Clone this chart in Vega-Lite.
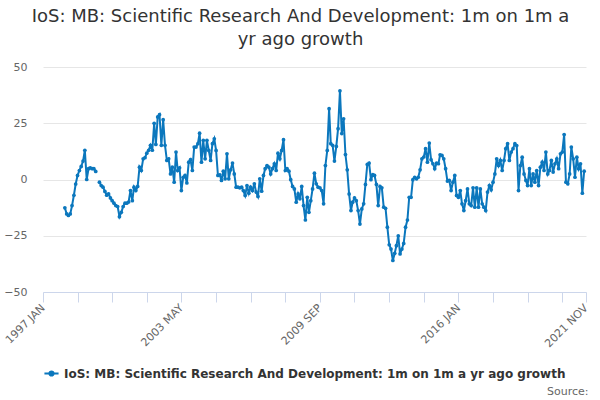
{
  "$schema": "https://vega.github.io/schema/vega-lite/v6.json",
  "width": 543,
  "height": 225,
  "autosize": "none",
  "padding": {"left": 43, "top": 67, "right": 14, "bottom": 108},
  "background": "white",
  "title": {
    "text": ["IoS: MB: Scientific Research And Development: 1m on 1m a", "yr ago growth"],
    "font": "DejaVu Sans",
    "fontSize": 18,
    "fontWeight": "normal",
    "color": "#333333",
    "anchor": "middle",
    "frame": "group",
    "dx": -14,
    "offset": 12,
    "lineHeight": 23
  },
  "data": {
    "values": [
      {"date": "1998-01-01", "value": -12.6}, {"date": "1998-02-01", "value": -15.3}, {"date": "1998-03-01", "value": -16}, {"date": "1998-04-01", "value": -15.3},
      {"date": "1998-05-01", "value": -11.6}, {"date": "1998-06-01", "value": -7}, {"date": "1998-07-01", "value": -2}, {"date": "1998-08-01", "value": 1.8},
      {"date": "1998-09-01", "value": 4}, {"date": "1998-10-01", "value": 5.8}, {"date": "1998-11-01", "value": 8.2}, {"date": "1998-12-01", "value": 13},
      {"date": "1999-01-01", "value": 0}, {"date": "1999-02-01", "value": 4.8}, {"date": "1999-03-01", "value": 5.2}, {"date": "1999-04-01", "value": 4.8},
      {"date": "1999-05-01", "value": 4.8}, {"date": "1999-06-01", "value": 3.6}, {"date": "1999-07-01", "value": null}, {"date": "1999-08-01", "value": -1.2},
      {"date": "1999-09-01", "value": -2.7}, {"date": "1999-10-01", "value": -3.4}, {"date": "1999-11-01", "value": -5.3}, {"date": "1999-12-01", "value": -7},
      {"date": "2000-01-01", "value": -6.4}, {"date": "2000-02-01", "value": -8.2}, {"date": "2000-03-01", "value": -9.4}, {"date": "2000-04-01", "value": -10.5},
      {"date": "2000-05-01", "value": -11.6}, {"date": "2000-06-01", "value": -12}, {"date": "2000-07-01", "value": -16.5}, {"date": "2000-08-01", "value": -14.6},
      {"date": "2000-09-01", "value": -12}, {"date": "2000-10-01", "value": -10.5}, {"date": "2000-11-01", "value": -10.5}, {"date": "2000-12-01", "value": -10},
      {"date": "2001-01-01", "value": -4.9}, {"date": "2001-02-01", "value": -9.4}, {"date": "2001-03-01", "value": -3.4}, {"date": "2001-04-01", "value": -4.9},
      {"date": "2001-05-01", "value": -3.1}, {"date": "2001-06-01", "value": 5.5}, {"date": "2001-07-01", "value": 4}, {"date": "2001-08-01", "value": 9.2},
      {"date": "2001-09-01", "value": 9.7}, {"date": "2001-10-01", "value": 11.7}, {"date": "2001-11-01", "value": 13}, {"date": "2001-12-01", "value": 15.2},
      {"date": "2002-01-01", "value": 13}, {"date": "2002-02-01", "value": 25}, {"date": "2002-03-01", "value": 15.6}, {"date": "2002-04-01", "value": 27.8},
      {"date": "2002-05-01", "value": 28.8}, {"date": "2002-06-01", "value": 15.2}, {"date": "2002-07-01", "value": 26.6}, {"date": "2002-08-01", "value": 15.2},
      {"date": "2002-09-01", "value": 8.5}, {"date": "2002-10-01", "value": 9.2}, {"date": "2002-11-01", "value": 2.5}, {"date": "2002-12-01", "value": 5.5},
      {"date": "2003-01-01", "value": -1.2}, {"date": "2003-02-01", "value": 12.2}, {"date": "2003-03-01", "value": 4}, {"date": "2003-04-01", "value": 5.2},
      {"date": "2003-05-01", "value": -4.9}, {"date": "2003-06-01", "value": 1}, {"date": "2003-07-01", "value": 1.8}, {"date": "2003-08-01", "value": -1.5},
      {"date": "2003-09-01", "value": 7.7}, {"date": "2003-10-01", "value": 8.8}, {"date": "2003-11-01", "value": 4}, {"date": "2003-12-01", "value": 14.4},
      {"date": "2004-01-01", "value": 14.4}, {"date": "2004-02-01", "value": 15.9}, {"date": "2004-03-01", "value": 20.6}, {"date": "2004-04-01", "value": 7.7},
      {"date": "2004-05-01", "value": 17.4}, {"date": "2004-06-01", "value": 9.2}, {"date": "2004-07-01", "value": 17.4}, {"date": "2004-08-01", "value": 12.9},
      {"date": "2004-09-01", "value": 8.5}, {"date": "2004-10-01", "value": 15.9}, {"date": "2004-11-01", "value": 18.1}, {"date": "2004-12-01", "value": 12.9},
      {"date": "2005-01-01", "value": 1.8}, {"date": "2005-02-01", "value": 2.1}, {"date": "2005-03-01", "value": -0.4}, {"date": "2005-04-01", "value": 3.7},
      {"date": "2005-05-01", "value": 0.3}, {"date": "2005-06-01", "value": 11.4}, {"date": "2005-07-01", "value": 0.3}, {"date": "2005-08-01", "value": 4.3},
      {"date": "2005-09-01", "value": 7.3}, {"date": "2005-10-01", "value": 2.5}, {"date": "2005-11-01", "value": -3.4}, {"date": "2005-12-01", "value": -3.4},
      {"date": "2006-01-01", "value": -3.7}, {"date": "2006-02-01", "value": -3.4}, {"date": "2006-03-01", "value": -4.9}, {"date": "2006-04-01", "value": -7.1},
      {"date": "2006-05-01", "value": -2.7}, {"date": "2006-06-01", "value": -6.1}, {"date": "2006-07-01", "value": -3.4}, {"date": "2006-08-01", "value": -4.9},
      {"date": "2006-09-01", "value": -1.9}, {"date": "2006-10-01", "value": -5.6}, {"date": "2006-11-01", "value": -7.5}, {"date": "2006-12-01", "value": 0.3},
      {"date": "2007-01-01", "value": -5.2}, {"date": "2007-02-01", "value": 1.8}, {"date": "2007-03-01", "value": 4.8}, {"date": "2007-04-01", "value": 6.2},
      {"date": "2007-05-01", "value": 5.5}, {"date": "2007-06-01", "value": 2.5}, {"date": "2007-07-01", "value": 4.8}, {"date": "2007-08-01", "value": 7},
      {"date": "2007-09-01", "value": 4}, {"date": "2007-10-01", "value": 11.7}, {"date": "2007-11-01", "value": 9.2}, {"date": "2007-12-01", "value": 12.9},
      {"date": "2008-01-01", "value": 17.7}, {"date": "2008-02-01", "value": 4}, {"date": "2008-03-01", "value": 4.8}, {"date": "2008-04-01", "value": 3.7},
      {"date": "2008-05-01", "value": -0.1}, {"date": "2008-06-01", "value": -3.1}, {"date": "2008-07-01", "value": -4.2}, {"date": "2008-08-01", "value": -10.1},
      {"date": "2008-09-01", "value": -6.4}, {"date": "2008-10-01", "value": -8.6}, {"date": "2008-11-01", "value": -3.1}, {"date": "2008-12-01", "value": -11.6},
      {"date": "2009-01-01", "value": -18}, {"date": "2009-02-01", "value": -7.9}, {"date": "2009-03-01", "value": -14.6}, {"date": "2009-04-01", "value": -9.4},
      {"date": "2009-05-01", "value": -4.2}, {"date": "2009-06-01", "value": 2.8}, {"date": "2009-07-01", "value": -1.9}, {"date": "2009-08-01", "value": -3.4},
      {"date": "2009-09-01", "value": -3.7}, {"date": "2009-10-01", "value": -4.9}, {"date": "2009-11-01", "value": -10.8}, {"date": "2009-12-01", "value": 6.2},
      {"date": "2010-01-01", "value": 12.9}, {"date": "2010-02-01", "value": 31.5}, {"date": "2010-03-01", "value": 15.9}, {"date": "2010-04-01", "value": 15.2},
      {"date": "2010-05-01", "value": 8.2}, {"date": "2010-06-01", "value": 14.7}, {"date": "2010-07-01", "value": 22.6}, {"date": "2010-08-01", "value": 39.4},
      {"date": "2010-09-01", "value": 20.4}, {"date": "2010-10-01", "value": 27}, {"date": "2010-11-01", "value": 11.1}, {"date": "2010-12-01", "value": 4.3},
      {"date": "2011-01-01", "value": -6.4}, {"date": "2011-02-01", "value": -13.8}, {"date": "2011-03-01", "value": -10.1}, {"date": "2011-04-01", "value": -8.2},
      {"date": "2011-05-01", "value": -9.4}, {"date": "2011-06-01", "value": -13.8}, {"date": "2011-07-01", "value": -19.8}, {"date": "2011-08-01", "value": -13.1},
      {"date": "2011-09-01", "value": -10.8}, {"date": "2011-10-01", "value": -2.2}, {"date": "2011-11-01", "value": 6.7}, {"date": "2011-12-01", "value": 7.3},
      {"date": "2012-01-01", "value": -0.1}, {"date": "2012-02-01", "value": 2.2}, {"date": "2012-03-01", "value": 1.8}, {"date": "2012-04-01", "value": -2.2},
      {"date": "2012-05-01", "value": -11.6}, {"date": "2012-06-01", "value": -3.1}, {"date": "2012-07-01", "value": -3.7}, {"date": "2012-08-01", "value": -12.3},
      {"date": "2012-09-01", "value": -12.8}, {"date": "2012-10-01", "value": -21.2}, {"date": "2012-11-01", "value": -29}, {"date": "2012-12-01", "value": -30.9},
      {"date": "2013-01-01", "value": -36}, {"date": "2013-02-01", "value": -32.8}, {"date": "2013-03-01", "value": -29.4}, {"date": "2013-04-01", "value": -25},
      {"date": "2013-05-01", "value": -33.1}, {"date": "2013-06-01", "value": -30.9}, {"date": "2013-07-01", "value": -28.4}, {"date": "2013-08-01", "value": -21.2},
      {"date": "2013-09-01", "value": -18}, {"date": "2013-10-01", "value": -7.9}, {"date": "2013-11-01", "value": -7.9}, {"date": "2013-12-01", "value": -0.1},
      {"date": "2014-01-01", "value": 1}, {"date": "2014-02-01", "value": 0.3}, {"date": "2014-03-01", "value": 1}, {"date": "2014-04-01", "value": 4.3},
      {"date": "2014-05-01", "value": 9.2}, {"date": "2014-06-01", "value": 10}, {"date": "2014-07-01", "value": 13.7}, {"date": "2014-08-01", "value": 7.7},
      {"date": "2014-09-01", "value": 16.2}, {"date": "2014-10-01", "value": 8.8}, {"date": "2014-11-01", "value": 7}, {"date": "2014-12-01", "value": 4.8},
      {"date": "2015-01-01", "value": 7.3}, {"date": "2015-02-01", "value": 7}, {"date": "2015-03-01", "value": 11}, {"date": "2015-04-01", "value": 10.7},
      {"date": "2015-05-01", "value": 9.2}, {"date": "2015-06-01", "value": 4.8}, {"date": "2015-07-01", "value": -0.7}, {"date": "2015-08-01", "value": -0.4},
      {"date": "2015-09-01", "value": -4.9}, {"date": "2015-10-01", "value": -1.2}, {"date": "2015-11-01", "value": 1.8}, {"date": "2015-12-01", "value": -7.1},
      {"date": "2016-01-01", "value": -7.9}, {"date": "2016-02-01", "value": -4.9}, {"date": "2016-03-01", "value": -10.8}, {"date": "2016-04-01", "value": -13.8},
      {"date": "2016-05-01", "value": -9.4}, {"date": "2016-06-01", "value": -4.2}, {"date": "2016-07-01", "value": -10.8}, {"date": "2016-08-01", "value": -11.6},
      {"date": "2016-09-01", "value": -3.7}, {"date": "2016-10-01", "value": -12.3}, {"date": "2016-11-01", "value": -3.7}, {"date": "2016-12-01", "value": -12.3},
      {"date": "2017-01-01", "value": -4.2}, {"date": "2017-02-01", "value": -10.8}, {"date": "2017-03-01", "value": -12.3}, {"date": "2017-04-01", "value": -13.8},
      {"date": "2017-05-01", "value": -5.6}, {"date": "2017-06-01", "value": -2.7}, {"date": "2017-07-01", "value": -4.6}, {"date": "2017-08-01", "value": -1.2},
      {"date": "2017-09-01", "value": 2.5}, {"date": "2017-10-01", "value": 9.2}, {"date": "2017-11-01", "value": 6.2}, {"date": "2017-12-01", "value": 8.5},
      {"date": "2018-01-01", "value": 4}, {"date": "2018-02-01", "value": 8.5}, {"date": "2018-03-01", "value": 13.7}, {"date": "2018-04-01", "value": 15.9},
      {"date": "2018-05-01", "value": 8.5}, {"date": "2018-06-01", "value": 12.2}, {"date": "2018-07-01", "value": 13.7}, {"date": "2018-08-01", "value": 15.9},
      {"date": "2018-09-01", "value": 15.1}, {"date": "2018-10-01", "value": -4.9}, {"date": "2018-11-01", "value": 6.2}, {"date": "2018-12-01", "value": 9.9},
      {"date": "2019-01-01", "value": 2.5}, {"date": "2019-02-01", "value": -0.4}, {"date": "2019-03-01", "value": -2.7}, {"date": "2019-04-01", "value": 4.8},
      {"date": "2019-05-01", "value": -2.7}, {"date": "2019-06-01", "value": 2.5}, {"date": "2019-07-01", "value": -1.2}, {"date": "2019-08-01", "value": 4},
      {"date": "2019-09-01", "value": -2.7}, {"date": "2019-10-01", "value": 5.5}, {"date": "2019-11-01", "value": 7.7}, {"date": "2019-12-01", "value": 4},
      {"date": "2020-01-01", "value": 12.2}, {"date": "2020-02-01", "value": 2.5}, {"date": "2020-03-01", "value": 4}, {"date": "2020-04-01", "value": 8.5},
      {"date": "2020-05-01", "value": 3.3}, {"date": "2020-06-01", "value": 7}, {"date": "2020-07-01", "value": 9.2}, {"date": "2020-08-01", "value": 4.8},
      {"date": "2020-09-01", "value": 11.4}, {"date": "2020-10-01", "value": 12.2}, {"date": "2020-11-01", "value": 20}, {"date": "2020-12-01", "value": -1.2},
      {"date": "2021-01-01", "value": -1.9}, {"date": "2021-02-01", "value": 2.5}, {"date": "2021-03-01", "value": 14.4}, {"date": "2021-04-01", "value": 9.2},
      {"date": "2021-05-01", "value": 1}, {"date": "2021-06-01", "value": 9.9}, {"date": "2021-07-01", "value": 4.8}, {"date": "2021-08-01", "value": 7},
      {"date": "2021-09-01", "value": -6.1}, {"date": "2021-10-01", "value": 3.7}
    ]
  },
  "mark": {"type": "line", "strokeWidth": 2, "point": {"filled": true, "size": 14}},
  "encoding": {
    "x": {
      "field": "date",
      "type": "temporal",
      "scale": {
        "type": "utc",
        "domain": [
          {"year": 1997, "month": 1, "date": 1, "utc": true},
          {"year": 2021, "month": 11, "date": 1, "utc": true}
        ]
      },
      "axis": {
        "values": [
          {"year": 1997, "month": 1, "date": 1, "utc": true},
          {"year": 1998, "month": 8, "date": 1, "utc": true},
          {"year": 2000, "month": 3, "date": 1, "utc": true},
          {"year": 2001, "month": 10, "date": 1, "utc": true},
          {"year": 2003, "month": 5, "date": 1, "utc": true},
          {"year": 2004, "month": 12, "date": 1, "utc": true},
          {"year": 2006, "month": 7, "date": 1, "utc": true},
          {"year": 2008, "month": 2, "date": 1, "utc": true},
          {"year": 2009, "month": 9, "date": 1, "utc": true},
          {"year": 2011, "month": 4, "date": 1, "utc": true},
          {"year": 2012, "month": 11, "date": 1, "utc": true},
          {"year": 2014, "month": 6, "date": 1, "utc": true},
          {"year": 2016, "month": 1, "date": 1, "utc": true},
          {"year": 2017, "month": 8, "date": 1, "utc": true},
          {"year": 2019, "month": 3, "date": 1, "utc": true},
          {"year": 2020, "month": 10, "date": 1, "utc": true},
          {"year": 2021, "month": 11, "date": 1, "utc": true}
        ],
        "labelExpr": "indexof(['1997-01','2003-05','2009-09','2016-01','2021-11'], utcFormat(datum.value, '%Y-%m')) >= 0 ? upper(utcFormat(datum.value, '%Y %b')) : ''",
        "labelAngle": -45,
        "labelAlign": "right",
        "labelBaseline": "middle",
        "labelPadding": 4,
        "labelOverlap": false,
        "labelFlush": false,
        "labelBound": false,
        "labelFont": "DejaVu Sans",
        "labelFontSize": 11,
        "labelColor": "#666666",
        "tickSize": 10,
        "tickColor": "#ccd6eb",
        "domainColor": "#ccd6eb",
        "grid": false,
        "title": "Source:",
        "titleFont": "DejaVu Sans",
        "titleFontSize": 11,
        "titleFontWeight": "normal",
        "titleColor": "#666666",
        "titleAnchor": "end",
        "titleAlign": "right",
        "titleBaseline": "alphabetic",
        "titleX": 545,
        "titleY": 102
      }
    },
    "y": {
      "field": "value",
      "type": "quantitative",
      "scale": {"domain": [-50, 50]},
      "axis": {
        "values": [-50, -25, 0, 25, 50],
        "domain": false,
        "ticks": false,
        "labelPadding": 16,
        "labelFont": "DejaVu Sans",
        "labelFontSize": 11,
        "labelColor": "#666666",
        "gridColor": "#e6e6e6",
        "title": null
      }
    },
    "color": {
      "datum": "IoS: MB: Scientific Research And Development: 1m on 1m a yr ago growth",
      "scale": {"range": ["#0b77bd"]},
      "legend": {
        "orient": "none",
        "legendX": 0,
        "legendY": 298,
        "title": null,
        "labelFont": "DejaVu Sans",
        "labelFontSize": 12,
        "labelFontWeight": "bold",
        "labelColor": "#333333",
        "labelLimit": 0,
        "symbolType": "M-1,0H1M-0.3,0A0.3,0.3,0,1,0,0.3,0A0.3,0.3,0,1,0,-0.3,0",
        "symbolSize": 200,
        "symbolStrokeWidth": 2,
        "symbolFillColor": "#0b77bd"
      }
    }
  },
  "config": {
    "view": {"stroke": null},
    "font": "DejaVu Sans"
  }
}
